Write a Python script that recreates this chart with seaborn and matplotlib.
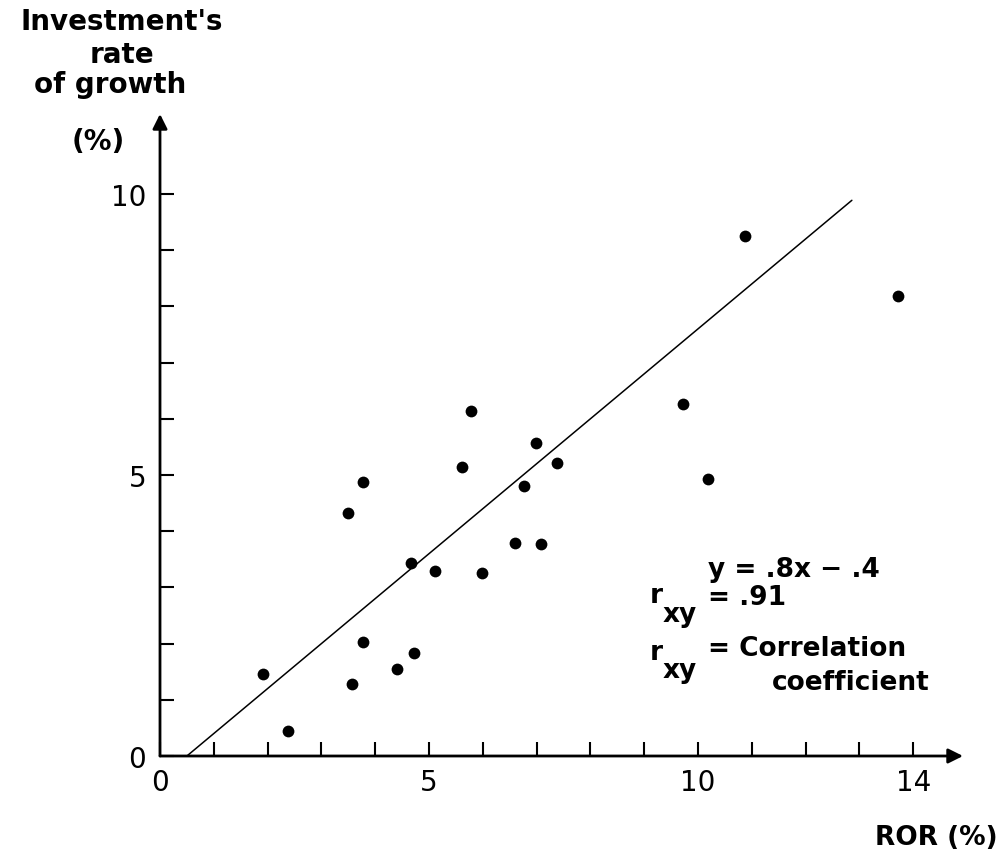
import matplotlib
matplotlib.use("Agg")
import matplotlib.pyplot as plt
import pandas as pd
import seaborn as sns

# Rate of return vs. investment growth, one dot per observation (%)
ror = [1.91, 2.37, 3.49, 3.78, 3.57, 3.77, 4.40, 4.67, 4.72, 5.12, 5.61,
       5.78, 5.98, 6.60, 6.77, 6.98, 7.09, 7.37, 9.72, 10.19, 10.87, 13.71]
growth = [1.46, 0.44, 4.32, 4.88, 1.28, 2.02, 1.54, 3.43, 1.84, 3.30, 5.14,
          6.14, 3.25, 3.79, 4.81, 5.57, 3.77, 5.21, 6.27, 4.93, 9.25, 8.18]

# Fitted regression line y = .8x - .4, drawn over the span of the fit
slope = 0.8
intercept = -0.4
fit_span = [0.5, 12.86]

x_major = [0, 5, 10, 14]
y_major = [0, 5, 10]
x_minor = list(range(1, 15))
y_minor = list(range(1, 11))

W, H = 1006, 853
X0, Y0 = 160, 757          # origin in pixels
X_END, Y_END = 963, 115    # arrow tips in pixels
PX_X, PX_Y = 53.8, 56.2    # pixels per unit

sns.set_theme(style="white")
plt.rcParams["font.family"] = ["DejaVu Sans"]

fig = plt.figure(figsize=(W / 100, H / 100), dpi=100)
ax = fig.add_axes([X0 / W, 1 - Y0 / H, (X_END - X0) / W, (Y0 - Y_END) / H])
xmax = (X_END - X0) / PX_X
ymax = (Y0 - Y_END) / PX_Y
ax.set_xlim(0, xmax)
ax.set_ylim(0, ymax)

pts = pd.DataFrame({"ror": ror, "growth": growth})
sns.scatterplot(data=pts, x="ror", y="growth", ax=ax, s=72, color="black",
                edgecolor="black", linewidth=0, zorder=3)

fit = pd.DataFrame({"x": fit_span,
                    "y": [slope * v + intercept for v in fit_span]})
sns.lineplot(data=fit, x="x", y="y", ax=ax, color="black", lw=1.1)

for s in ax.spines.values():
    s.set_visible(False)

arrow = dict(arrowstyle="-|>", lw=2.0, color="black", mutation_scale=22,
             shrinkA=0, shrinkB=0)
ax.annotate("", xy=(xmax, 0), xytext=(0, 0), arrowprops=arrow,
            annotation_clip=False)
ax.annotate("", xy=(0, ymax), xytext=(0, 0), arrowprops=arrow,
            annotation_clip=False)

ax.set_xticks(x_major)
ax.set_xticklabels([str(v) for v in x_major])
ax.set_yticks(y_major)
ax.set_yticklabels([str(v) for v in y_major])
ax.set_xticks(x_minor, minor=True)
ax.set_yticks(y_minor, minor=True)
ax.tick_params(which="both", direction="in", length=10, width=1.5,
               color="black", bottom=True, left=True)
ax.tick_params(axis="x", which="major", labelsize=20, pad=9,
               labelcolor="black")
ax.tick_params(axis="y", which="major", labelsize=20, pad=10,
               labelcolor="black")
ax.set_xlabel("")
ax.set_ylabel("")


def ptext(x, y, s, size=19, ha="left", va="baseline"):
    fig.text(x / W, 1 - y / H, s, fontsize=size, ha=ha, va=va,
             color="black", fontweight="bold")


# Axis titles
ptext(122, 30, "Investment's", 20, ha="center")
ptext(122, 63, "rate", 20, ha="center")
ptext(110, 93, "of growth", 20, ha="center")
ptext(98, 150, "(%)", 20, ha="center")
ptext(998, 845, "ROR (%)", 19, ha="right")

# Regression summary
ptext(708, 577, "y = .8x \u2212 .4")
ptext(650, 603, "r")
ptext(663, 622, "xy")
ptext(708, 605, "= .91")
ptext(650, 660, "r")
ptext(663, 678, "xy")
ptext(708, 656, "= Correlation")
ptext(930, 690, "coefficient", ha="right")

fig.savefig("out.png", dpi=100, facecolor="white")
